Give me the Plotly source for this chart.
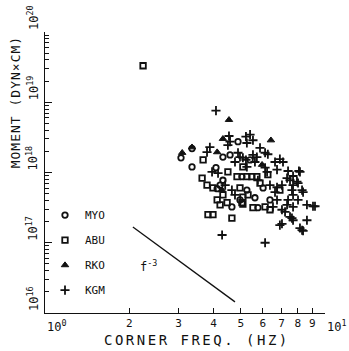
import plotly.graph_objects as go

# ---- data (corner frequency in Hz, seismic moment in dyn*cm)
myo_f = [3.06, 3.35, 3.35, 4.89, 4.58, 4.32, 4.22, 4.32, 4.08, 5.26, 5.62, 4.97, 6.01, 6.36, 5.76, 4.65, 4.12, 5.40, 5.05]
myo_m = [1.62e18, 2.19e18, 1.20e18, 2.75e18, 1.78e18, 7.76e17, 6.61e17, 1.66e18, 1.17e18, 5.62e17, 4.37e17, 4.07e17,
         6.03e17, 4.07e17, 3.16e17, 3.24e17, 5.89e17, 1.51e18, 8.71e17]

abu_f = [2.24, 3.67, 3.64, 3.79, 3.98, 4.32, 4.12, 4.47, 4.22, 5.05, 3.82, 3.98, 4.65, 4.50, 4.85, 5.26, 5.48, 5.71,
         6.25, 4.97, 5.31, 5.09, 5.09, 5.53, 6.11, 6.36, 6.90, 5.86, 5.09]
abu_m = [3.31e19, 1.51e18, 8.32e17, 6.61e17, 6.03e17, 4.79e17, 4.07e17, 3.72e17, 3.47e17, 3.72e17, 2.51e17, 2.51e17,
         2.24e17, 1.02e18, 8.71e17, 8.71e17, 8.71e17, 8.71e17, 9.33e17, 6.03e17, 4.79e17, 4.47e17, 3.55e17, 3.16e17,
         3.24e17, 2.95e17, 5.62e17, 7.08e17, 1.20e18]

rko_f = [4.54, 3.09, 3.35, 4.12, 6.41, 4.32, 4.29, 5.96]
rko_m = [5.62e18, 1.91e18, 2.29e18, 1.95e18, 2.88e18, 3.02e18, 5.62e17, 1.29e18]

kgm_f = [4.08, 4.54, 4.58, 4.50, 5.22, 5.26, 3.88, 3.79, 4.89, 4.97, 4.77, 5.22, 3.95, 4.15, 4.29, 6.11, 7.02, 7.50,
         7.69, 8.62, 8.28, 8.62, 9.06, 8.35, 8.01, 7.69, 8.14, 5.40, 5.53, 5.86, 6.11, 6.25, 5.53, 5.71, 5.62, 6.63,
         6.90, 7.08, 5.26, 6.11, 6.21, 6.74, 7.38, 8.07, 7.69, 7.50, 7.32, 7.02, 6.74, 7.94, 8.28, 7.62, 7.69, 8.01,
         7.38, 7.32, 7.69, 9.21, 6.74, 6.52, 7.02, 7.20, 7.62, 6.90, 8.14, 8.35, 5.09, 4.40, 4.65, 4.77, 5.76, 6.36, 6.63]
kgm_m = [7.59e18, 3.31e18, 2.75e18, 2.45e18, 3.24e18, 2.63e18, 2.29e18, 1.95e18, 1.91e18, 1.66e18, 1.41e18, 1.51e18,
         1.02e18, 9.77e17, 1.29e17, 1.00e17, 1.86e17, 2.34e17, 2.09e17, 2.09e17, 1.51e17, 3.47e17, 3.31e17, 5.25e17,
         7.08e17, 6.61e17, 1.02e18, 3.47e18, 2.88e18, 2.24e18, 1.91e18, 1.82e18, 1.78e18, 1.66e18, 1.41e18, 1.41e18,
         1.55e18, 1.41e18, 1.20e18, 1.17e18, 1.02e18, 1.10e18, 1.05e18, 1.05e18, 8.91e17, 7.76e17, 8.32e17, 6.61e17,
         6.17e17, 7.41e17, 5.62e17, 5.62e17, 4.79e17, 4.07e17, 4.07e17, 3.47e17, 3.24e17, 3.31e17, 4.07e17, 3.24e17,
         2.95e17, 2.75e17, 2.24e17, 1.78e17, 1.62e17, 1.48e17, 1.62e18, 6.61e17, 5.62e17, 4.79e17, 7.76e17, 6.61e17,
         5.25e17]

# f^-3 reference line (end points)
line_f = [2.06, 4.77]
line_m = [1.68e17, 1.44e16]

x_minor_labels = ["2", "3", "4", "5", "6", "7", "8", "9"]
x_minor_vals = [2, 3, 4, 5, 6, 7, 8, 9]
y_decades = [16, 17, 18, 19, 20]

FONT = "DejaVu Sans Mono"
BLACK = "#111111"

fig = go.Figure()

fig.add_trace(go.Scatter(x=line_f, y=line_m, mode="lines", line=dict(color=BLACK, width=1.3),
                         showlegend=False, hoverinfo="skip"))

fig.add_trace(go.Scatter(x=myo_f, y=myo_m, mode="markers", name="MYO", legendgroup="a",
                         marker=dict(symbol="circle-open", size=5.5, color=BLACK, line=dict(width=1.8, color=BLACK))))
fig.add_trace(go.Scatter(x=abu_f, y=abu_m, mode="markers", name="ABU", legendgroup="b",
                         marker=dict(symbol="square-open", size=5.5, color=BLACK, line=dict(width=1.8, color=BLACK))))
fig.add_trace(go.Scatter(x=rko_f, y=rko_m, mode="markers", name="RKO", legendgroup="c",
                         marker=dict(symbol="triangle-up", size=6.5, color=BLACK, line=dict(width=1, color=BLACK))))
fig.add_trace(go.Scatter(x=kgm_f, y=kgm_m, mode="markers", name="KGM", legendgroup="d",
                         marker=dict(symbol="cross-thin", size=6.5, color=BLACK, line=dict(width=1.8, color=BLACK))))

minor_y = []
for d in range(16, 20):
    for k in range(2, 10):
        minor_y.append(k * 10.0 ** d)

fig.update_xaxes(type="log", range=[0, 1], showline=True, linecolor=BLACK, linewidth=1.3, mirror=False,
                 showgrid=False, zeroline=False, ticks="inside", ticklen=5, tickcolor=BLACK, tickwidth=1.2,
                 tickvals=x_minor_vals, ticktext=x_minor_labels,
                 tickfont=dict(family=FONT, size=11, color=BLACK),
                 minor=dict(tickvals=[10], ticks="inside", ticklen=5, tickcolor=BLACK, tickwidth=1.2))
fig.update_yaxes(type="log", range=[16, 20], showline=True, linecolor=BLACK, linewidth=1.3, mirror=False,
                 showgrid=False, zeroline=False, ticks="inside", ticklen=7, tickcolor=BLACK, tickwidth=1.2,
                 tickvals=[10.0 ** d for d in y_decades], showticklabels=False,
                 minor=dict(tickvals=minor_y, ticks="inside", ticklen=4, tickcolor=BLACK, tickwidth=1))

ann = []
for d in y_decades:
    ann.append(dict(xref="paper", yref="y", x=-0.045, y=d, text="10<sup>%d</sup>" % d, showarrow=False,
                    textangle=-90, xanchor="center", yanchor="bottom",
                    font=dict(family=FONT, size=12, color=BLACK)))
ann.append(dict(xref="x", yref="paper", x=0, y=-0.012, text="10<sup>0</sup>", showarrow=False,
                xanchor="left", yanchor="top", font=dict(family=FONT, size=12, color=BLACK)))
ann.append(dict(xref="x", yref="paper", x=1, y=-0.012, text="10<sup>1</sup>", showarrow=False,
                xanchor="left", yanchor="top", font=dict(family=FONT, size=12, color=BLACK)))
ann.append(dict(xref="paper", yref="paper", x=0.543, y=-0.095, text='<span style="letter-spacing:2.5px">CORNER FREQ. (HZ)</span>',
                showarrow=False, xanchor="center", yanchor="middle", font=dict(family=FONT, size=14, color=BLACK)))
ann.append(dict(xref="paper", yref="paper", x=-0.107, y=0.75, text='<span style="letter-spacing:1px">MOMENT (DYN×CM)</span>',
                showarrow=False, textangle=-90, xanchor="center", yanchor="middle",
                font=dict(family=FONT, size=13, color=BLACK)))
ann.append(dict(xref="x", yref="y", x=0.368, y=16.67, text="f<sup>-3</sup>", showarrow=False,
                xanchor="center", yanchor="middle", font=dict(family=FONT, size=12, color=BLACK)))

fig.update_layout(
    width=349, height=351,
    margin=dict(l=45, r=24, t=32, b=38),
    paper_bgcolor="white", plot_bgcolor="white",
    showlegend=True,
    legend=dict(x=0.0, y=0.40, xanchor="left", yanchor="top", bgcolor="rgba(0,0,0,0)",
                font=dict(family=FONT, size=11, color=BLACK), tracegroupgap=6, itemwidth=30),
    annotations=ann,
)

fig.write_html("out.html")
